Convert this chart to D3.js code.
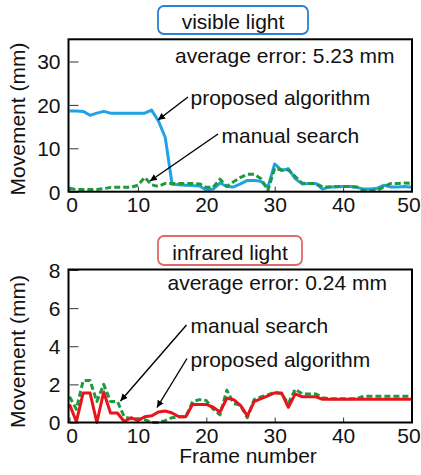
<!DOCTYPE html>
<html>
<head>
<meta charset="utf-8">
<script src="https://cdn.jsdelivr.net/npm/d3@7"></script>
<style>
  html, body { margin: 0; padding: 0; background: #fff; }
  svg { display: block; font-family: "Liberation Sans", Arial, Helvetica, sans-serif; }
</style>
</head>
<body>
<svg id="chart" width="421" height="475"></svg>
<script>
// Frame indices shared by both panels
const frames = d3.range(0, 51);
const xTicks = [0, 10, 20, 30, 40, 50];

// Visible-light panel: movement (mm) per frame
const visibleProposed = [
  18.6, 18.6, 18.5, 17.6, 18.1, 18.5, 18.1, 18.1, 18.1, 18.1,
  18.1, 18.1, 18.8, 16.3, 12.5, 1.7, 1.6, 1.5, 1.4, 1.3,
  0.4, 0.6, 2.0, 1.2, 1.1, 1.8, 2.6, 2.6, 2.4, 1.0,
  6.4, 4.9, 5.3, 3.0, 1.8, 1.9, 1.9, 0.6, 1.1, 1.1,
  1.2, 1.2, 1.0, 0.6, 0.6, 0.8, 1.5, 1.1, 1.1, 1.2, 1.0
];
const visibleManual = [
  0.8, 0.5, 0.5, 0.5, 0.5, 0.7, 1.0, 1.0, 1.0, 1.0,
  1.5, 3.3, 1.6, 1.2, 1.9, 1.9, 1.9, 1.9, 1.9, 1.8,
  1.0, 1.0, 2.9, 1.2, 2.3, 3.3, 4.0, 4.0, 3.0, 0.3,
  5.4, 5.0, 5.0, 3.5, 2.0, 1.9, 1.9, 1.1, 1.1, 1.2,
  1.2, 1.2, 1.1, 0.3, 0.3, 0.3, 1.2, 1.9, 1.9, 2.0, 1.9
];
const visibleYTicks = [0, 10, 20, 30];

// Infrared panel: movement (mm) per frame
const infraredProposed = [
  0.95, 0.05, 1.55, 1.55, 0.0, 1.6, 0.5, 0.5, 0.05, 0.25,
  0.1, 0.3, 0.35, 0.55, 0.6, 0.5, 0.3, 0.3, 0.95, 0.95,
  0.95, 0.8, 0.55, 1.27, 1.2, 0.9, 0.35, 1.1, 1.25, 1.4,
  1.55, 1.55, 0.8, 1.5, 1.35, 1.35, 1.35, 1.22, 1.22, 1.22,
  1.22, 1.22, 1.22, 1.22, 1.22, 1.22, 1.22, 1.22, 1.22, 1.22, 1.22
];
const infraredManual = [
  1.35, 0.7, 2.2, 2.2, 1.1, 2.0, 1.1, 1.1, 0.3, 0.2,
  0.2, 0.15, 0.0, 0.0, 0.1, 0.25, 0.3, 0.3, 1.1, 1.2,
  1.15, 0.7, 0.4, 1.7, 1.0, 0.9, 0.25, 1.2, 1.35, 1.45,
  1.6, 1.5, 1.0, 1.75, 1.5, 1.5, 1.5, 1.3, 1.25, 1.25,
  1.25, 1.25, 1.25, 1.38, 1.38, 1.38, 1.38, 1.38, 1.38, 1.38, 1.38
];
const infraredYTicks = [0, 2, 4, 6, 8];

const svg = d3.select("#chart");

// Arrowhead marker
svg.append("defs").append("marker")
  .attr("id", "arrowhead")
  .attr("viewBox", "0 0 10 10")
  .attr("refX", 10).attr("refY", 5)
  .attr("markerWidth", 7).attr("markerHeight", 7)
  .attr("markerUnits", "userSpaceOnUse")
  .attr("orient", "auto")
  .append("path").attr("d", "M0,0 L10,5 L0,10 z").attr("fill", "#000");

const FONT = 21;
const xLeft = 69.5, xRight = 411.5;

function drawPanel(cfg) {
  const x = d3.scaleLinear().domain([0, 50]).range([xLeft, xRight]);
  const y = d3.scaleLinear().domain([0, cfg.yMax]).range([cfg.bottom, cfg.top]);
  const g = svg.append("g");

  // title box
  g.append("rect")
    .attr("x", cfg.box[0]).attr("y", cfg.box[1])
    .attr("width", cfg.box[2]).attr("height", cfg.box[3])
    .attr("rx", 6).attr("ry", 6)
    .attr("fill", "#fff").attr("stroke", cfg.boxColor).attr("stroke-width", 1.8);
  g.append("text")
    .attr("x", cfg.box[0] + cfg.box[2] / 2).attr("y", cfg.titleBase)
    .attr("text-anchor", "middle").attr("font-size", FONT).attr("fill", "#111")
    .text(cfg.title);

  // axes with inward ticks
  const yAxis = d3.axisLeft(y).tickValues(cfg.yTicks).tickSize(-9).tickPadding(9);
  const ya = g.append("g").attr("transform", `translate(${xLeft},0)`).call(yAxis);
  const xAxis = d3.axisBottom(x).tickValues(xTicks).tickSize(-5).tickPadding(5.5);
  const xa = g.append("g").attr("transform", `translate(0,${cfg.bottom})`).call(xAxis);
  [ya, xa].forEach(a => {
    a.select(".domain").remove();
    a.selectAll(".tick line").attr("stroke", "#333").attr("stroke-width", 1);
    a.selectAll(".tick text").attr("font-size", FONT).attr("fill", "#111")
      .attr("font-family", "Liberation Sans, Arial, sans-serif");
  });
  ya.selectAll(".tick text").attr("dy", "0.35em");
  // keep the end labels inside the page
  xa.selectAll(".tick text").attr("dx", d => d === 0 ? 2 : (d === 50 ? -3 : 0));

  // series
  const line = vals => d3.line()
    .x((d, i) => x(frames[i]))
    .y(d => y(d))
    .curve(d3.curveLinear)(vals);

  cfg.series.forEach(s => {
    g.append("path")
      .attr("d", line(s.values))
      .attr("fill", "none")
      .attr("stroke", s.color)
      .attr("stroke-width", 3)
      .attr("stroke-linejoin", "round")
      .attr("stroke-dasharray", s.dash || null);
  });

  // frame
  g.append("rect")
    .attr("x", xLeft - 1).attr("y", cfg.top - 0.5)
    .attr("width", xRight - xLeft + 1.5).attr("height", cfg.bottom - cfg.top + 0.5)
    .attr("fill", "none").attr("stroke", "#000").attr("stroke-width", 2);

  // annotations
  cfg.notes.forEach(n => {
    g.append("text").attr("x", n.x).attr("y", n.y)
      .attr("font-size", FONT).attr("fill", "#111").text(n.text);
  });
  cfg.arrows.forEach(a => {
    g.append("line")
      .attr("x1", a[0]).attr("y1", a[1]).attr("x2", a[2]).attr("y2", a[3])
      .attr("stroke", "#000").attr("stroke-width", 1.4)
      .attr("marker-end", "url(#arrowhead)");
  });

  // y axis title
  g.append("text")
    .attr("transform", `translate(25,${cfg.labelY}) rotate(-90)`)
    .attr("text-anchor", "middle").attr("font-size", FONT).attr("fill", "#111")
    .text("Movement (mm)");
}

drawPanel({
  title: "visible light",
  box: [158, 6, 150, 28], boxColor: "#2a80d2", titleBase: 29,
  top: 39.8, bottom: 191.7, yMax: 35, yTicks: visibleYTicks, labelY: 119,
  series: [
    { values: visibleProposed, color: "#1fa2e6" },
    { values: visibleManual, color: "#1c9a3c", dash: "6,3" }
  ],
  notes: [
    { text: "average error: 5.23 mm", x: 175, y: 63 },
    { text: "proposed algorithm", x: 190.5, y: 105 },
    { text: "manual search", x: 221.5, y: 142.5 }
  ],
  arrows: [[188, 97, 158, 120], [218, 134, 150, 181]]
});

drawPanel({
  title: "infrared light",
  box: [158, 236, 144, 29], boxColor: "#e06a6a", titleBase: 259.5,
  top: 270, bottom: 422.5, yMax: 8, yTicks: infraredYTicks, labelY: 351.5,
  series: [
    { values: infraredManual, color: "#1c9a3c", dash: "6,3" },
    { values: infraredProposed, color: "#e8141c" }
  ],
  notes: [
    { text: "average error: 0.24 mm", x: 167.5, y: 290 },
    { text: "manual search", x: 190.5, y: 333 },
    { text: "proposed algorithm", x: 190.5, y: 366.5 }
  ],
  arrows: [[186.5, 325, 120.5, 401], [187, 358.5, 157, 407.5]]
});

// shared x axis title
svg.append("text")
  .attr("x", 248).attr("y", 463)
  .attr("text-anchor", "middle").attr("font-size", FONT).attr("fill", "#111")
  .text("Frame number");
</script>
</body>
</html>
